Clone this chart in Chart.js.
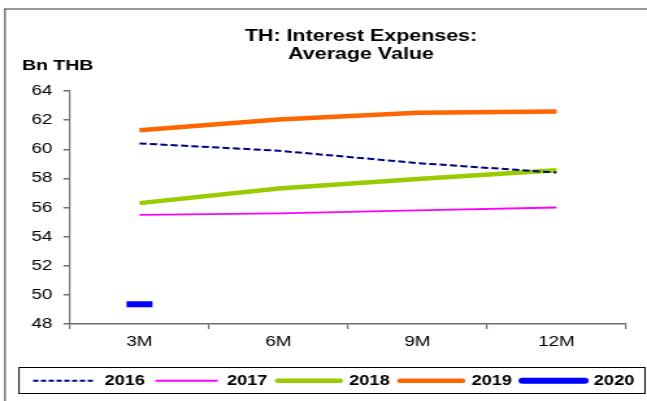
<!DOCTYPE html>
<html>
<head>
<meta charset="utf-8">
<script src="https://cdn.jsdelivr.net/npm/chart.js@4/dist/chart.umd.min.js"></script>
<style>
  html, body { margin: 0; padding: 0; background: #fff; overflow: hidden; }
</style>
</head>
<body>
<!-- the reference is horizontally stretched, so the canvas is drawn narrow and scaled up -->
<canvas id="chart" width="498" height="401" style="width:647px;height:401px;display:block"></canvas>
<script>
const categories = ["3M", "6M", "9M", "12M"];
const years = ["2016", "2017", "2018", "2019", "2020"];
const values2016 = [60.4, 59.9, 59.05, 58.4];
const values2017 = [55.5, 55.6, 55.8, 56.0];
const values2018 = [56.3, 57.3, 57.95, 58.55];
const values2019 = [61.3, 62.05, 62.5, 62.6];
const values2020 = [49.35, null, null, null];
const yMin = 48;
const yMax = 64;
const yStep = 2;
const titleLines = ["TH: Interest Expenses:", "Average Value"];
const unitLabel = "Bn THB";

const SX = 647 / 498; // horizontal stretch of the picture
const px = (x) => x / SX;
const FONT = "'Liberation Sans', Arial, sans-serif";

const decorations = {
  id: "decorations",
  beforeDraw(chart) {
    const ctx = chart.ctx;
    ctx.save();
    ctx.fillStyle = "#fff";
    ctx.fillRect(0, 0, chart.width, chart.height);
    // outer frame (top and left edge)
    ctx.strokeStyle = "#999";
    ctx.lineWidth = 2;
    ctx.beginPath();
    ctx.moveTo(px(4), 9);
    ctx.lineTo(chart.width, 9);
    ctx.stroke();
    ctx.strokeStyle = "#444";
    ctx.lineWidth = 1.1;
    ctx.beginPath();
    ctx.moveTo(px(5), 9);
    ctx.lineTo(px(5), chart.height);
    ctx.stroke();
    ctx.restore();
  },
  afterDraw(chart) {
    const ctx = chart.ctx;
    ctx.save();
    ctx.fillStyle = "#000";
    ctx.textAlign = "center";
    ctx.textBaseline = "alphabetic";
    ctx.font = "bold 16.5px " + FONT;
    ctx.fillText(titleLines[0], px(361), 40.5);
    ctx.fillText(titleLines[1], px(361), 59);
    ctx.textAlign = "left";
    ctx.font = "bold 15px " + FONT;
    ctx.fillText(unitLabel, px(22), 69.5);
    // legend border
    ctx.strokeStyle = "#000";
    ctx.lineWidth = 1;
    ctx.strokeRect(px(19), 367.5, px(645) - px(19), 26);
    ctx.restore();
  },
};

const ctx = document.getElementById("chart").getContext("2d");
new Chart(ctx, {
  type: "line",
  data: {
    labels: categories,
    datasets: [
      {
        label: years[0],
        data: values2016,
        borderColor: "#000080",
        backgroundColor: "#000080",
        borderWidth: 2,
        borderDash: [5.5, 2.5],
        legendDash: [4, 2],
        legendWidth: 2,
        pointRadius: 0,
      },
      {
        label: years[1],
        data: values2017,
        borderColor: "#ff00ff",
        backgroundColor: "#ff00ff",
        borderWidth: 1.8,
        legendWidth: 2,
        pointRadius: 0,
      },
      {
        label: years[2],
        data: values2018,
        borderColor: "#99cc00",
        backgroundColor: "#99cc00",
        borderWidth: 4.5,
        legendWidth: 4.5,
        pointRadius: 0,
      },
      {
        label: years[3],
        data: values2019,
        borderColor: "#ff6600",
        backgroundColor: "#ff6600",
        borderWidth: 4.5,
        legendWidth: 4.5,
        pointRadius: 0,
      },
      {
        label: years[4],
        data: values2020,
        borderColor: "#0000ff",
        backgroundColor: "#0000ff",
        borderWidth: 6,
        legendWidth: 6,
        pointStyle: "line",
        pointRadius: 10,
        pointBorderWidth: 6,
      },
    ],
  },
  options: {
    responsive: false,
    animation: false,
    devicePixelRatio: 1,
    layout: {
      padding: { left: 17.5, right: 0, top: 91, bottom: 3.3 },
    },
    elements: {
      line: { tension: 0, fill: false, borderCapStyle: "butt" },
    },
    plugins: {
      title: { display: false },
      tooltip: { enabled: false },
      legend: {
        position: "bottom",
        align: "start",
        labels: {
          usePointStyle: true,
          pointStyleWidth: 48,
          padding: 8,
          color: "#000",
          font: { family: FONT, size: 14, weight: "bold" },
          generateLabels: (chart) =>
            chart.data.datasets.map((ds, i) => ({
              text: ds.label,
              fillStyle: ds.borderColor,
              strokeStyle: ds.borderColor,
              lineWidth: ds.legendWidth,
              lineDash: ds.legendDash || [],
              lineCap: ds.legendWidth > 3 ? "round" : "butt",
              pointStyle: "line",
              fontColor: "#000",
              hidden: false,
              datasetIndex: i,
            })),
        },
      },
    },
    scales: {
      x: {
        offset: true,
        grid: {
          offset: true,
          drawOnChartArea: false,
          drawTicks: true,
          tickLength: 5,
          color: "#6e6e6e",
          lineWidth: 1.2,
        },
        border: { display: true, color: "#6e6e6e", width: 1.5 },
        ticks: {
          color: "#000",
          padding: 4,
          font: { family: FONT, size: 14.5 },
        },
        afterFit: (scale) => {
          scale.height = 365.7 - 324;
        },
      },
      y: {
        min: yMin,
        max: yMax,
        grid: {
          drawOnChartArea: false,
          drawTicks: true,
          tickLength: 5,
          color: "#6e6e6e",
          lineWidth: 1.5,
        },
        border: { display: true, color: "#6e6e6e", width: 1.2 },
        ticks: {
          stepSize: yStep,
          color: "#000",
          padding: 8.5,
          font: { family: FONT, size: 14.5 },
        },
        afterFit: (scale) => {
          scale.width = px(70) - 17.5;
        },
      },
      yRight: {
        position: "right",
        display: true,
        grid: { display: false },
        border: { display: false },
        ticks: { display: false },
        afterFit: (scale) => {
          scale.width = 498 - px(626);
        },
      },
    },
  },
  plugins: [decorations],
});
</script>
</body>
</html>
